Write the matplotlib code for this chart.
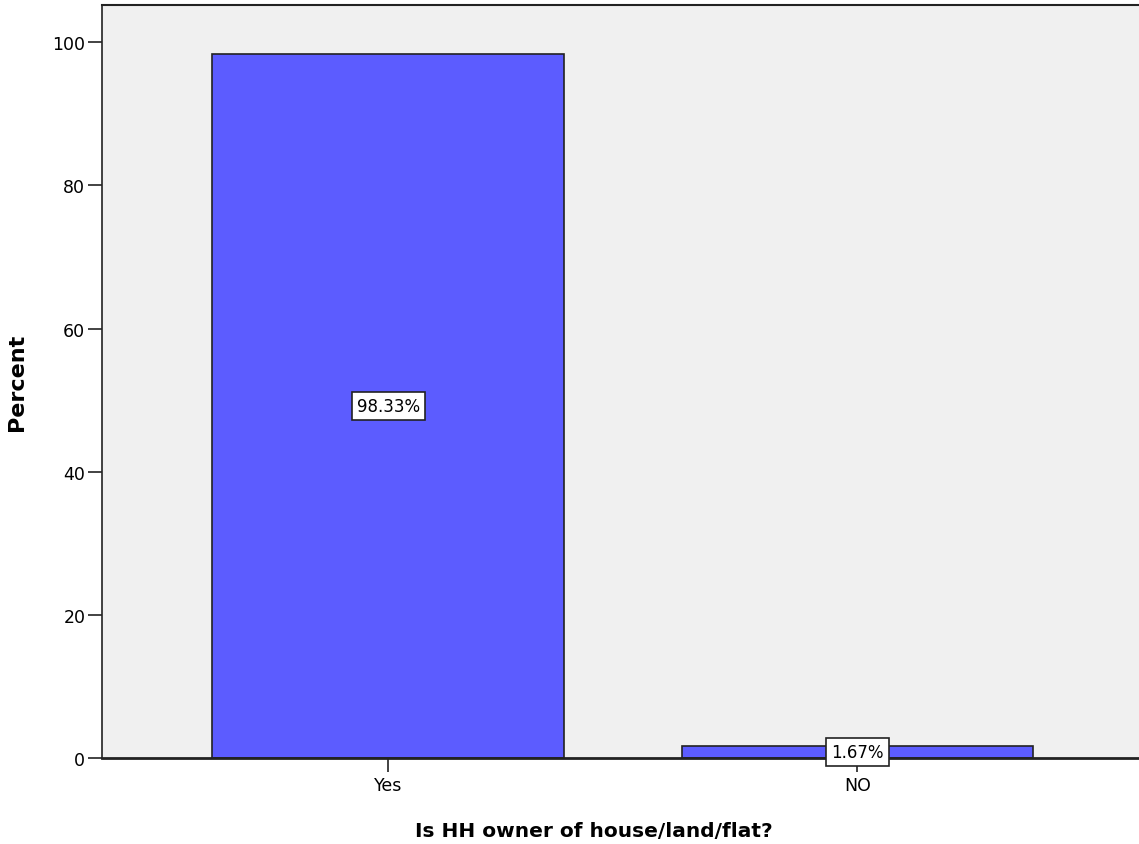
import matplotlib
matplotlib.use("Agg")
import matplotlib.pyplot as plt

categories = ["Yes", "NO"]
percents = [98.33, 1.67]
labels = ["98.33%", "1.67%"]
yticks = [0, 20, 40, 60, 80, 100]

plt.rcParams['font.family'] = ['DejaVu Sans']

fig = plt.figure(figsize=(11.39, 8.45), dpi=100)
ax = fig.add_axes([102 / 1139, 1 - 759 / 845, 1 - 102 / 1139, (759 - 6) / 845])
ax.set_facecolor('#f0f0f0')

x = list(range(len(categories)))
ax.bar(x, percents, width=0.75, color='#5c5cff', edgecolor='#222222', linewidth=1.2, zorder=2)

for xi, p, lab in zip(x, percents, labels):
    ax.text(xi, p / 2, lab, ha='center', va='center', fontsize=12, zorder=3,
            bbox=dict(boxstyle='square,pad=0.3', facecolor='white', edgecolor='#222222', linewidth=1.2))

ax.set_xlim(-0.61, 1.60)
ax.set_ylim(0, 105.2)
ax.set_xticks(x)
ax.set_xticklabels(categories, fontsize=12.5)
ax.set_yticks(yticks)
ax.tick_params(axis='y', labelsize=12.5, length=10, width=1.2, color='#222222', pad=2)
ax.tick_params(axis='x', length=10, width=1.2, color='#222222', pad=3)

ax.spines['right'].set_visible(False)
ax.spines['left'].set_linewidth(1.2)
ax.spines['top'].set_linewidth(1.5)
ax.spines['bottom'].set_linewidth(2)
for s in ax.spines.values():
    s.set_color('#222222')

ax.set_ylabel('Percent', fontsize=16, fontweight='bold', labelpad=18)
ax.set_xlabel('Is HH owner of house/land/flat?', fontsize=14.5, fontweight='bold')
ax.xaxis.set_label_coords((594 - 102) / 1037, -(822 - 759) / 753)

fig.savefig('out.png', dpi=100)
